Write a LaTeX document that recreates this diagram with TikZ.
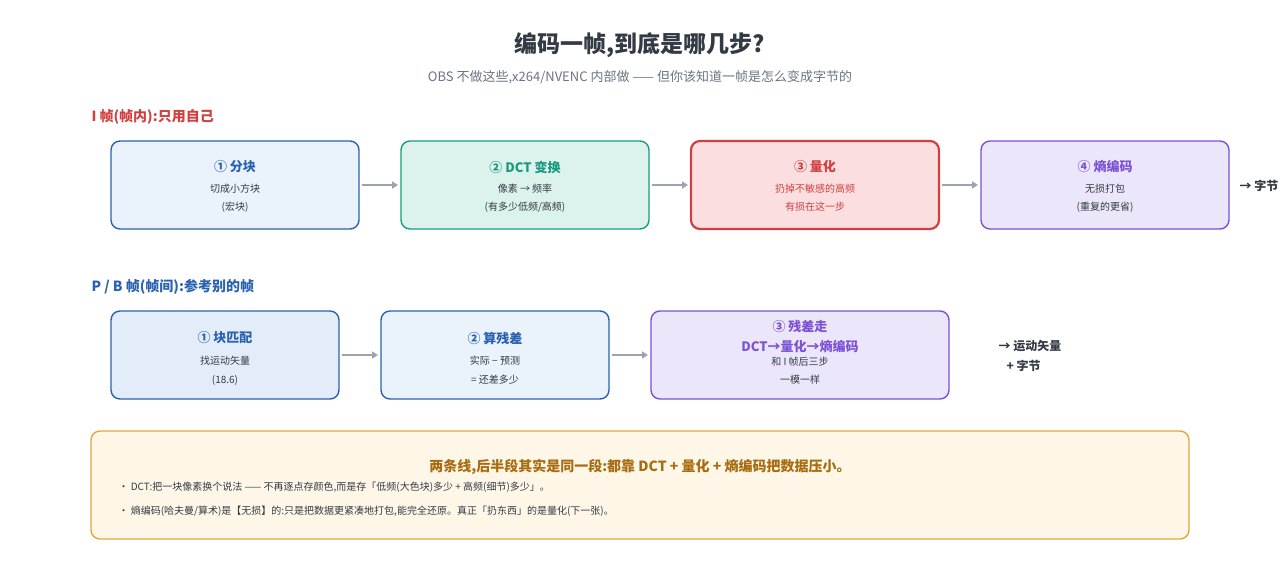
\documentclass[tikz,border=0pt]{standalone}
\usepackage{fontspec}
\setmainfont{Noto Sans CJK SC}
\usetikzlibrary{arrows.meta}
\definecolor{cblue}{HTML}{2A62B0}\definecolor{fblue}{HTML}{EAF2FC}\definecolor{fblue2}{HTML}{E3EDF9}
\definecolor{cgreen}{HTML}{1A9A80}\definecolor{fgreen}{HTML}{DCF2EC}
\definecolor{cred}{HTML}{D04040}\definecolor{fred}{HTML}{FBDFE0}
\definecolor{cpur}{HTML}{7B52D6}\definecolor{fpur}{HTML}{ECE6FA}
\definecolor{corg}{HTML}{E0A640}\definecolor{forg}{HTML}{FEF7E8}\definecolor{torg}{HTML}{A86C10}
\definecolor{cgray}{HTML}{9AA3AE}\definecolor{tdark}{HTML}{333A44}\definecolor{tsub}{HTML}{6B7480}
\begin{document}
\begin{tikzpicture}[x=1pt,y=-1pt,
 box/.style={rounded corners=9pt,line width=1.4pt},
 arr/.style={draw=cgray,line width=2.2pt,-{Triangle[length=6pt,width=7pt]}},
 ttl/.style={font=\fontsize{13}{15}\selectfont\bfseries},
 sm/.style={font=\fontsize{10}{12}\selectfont,text=tdark}]
\useasboundingbox (0,0) rectangle (1280,560);
\node[font=\fontsize{23}{27}\selectfont\bfseries,text=tdark] (t) at (640,45) {编码一帧,到底是哪几步?};
\node[font=\fontsize{13}{15}\selectfont,text=tsub] (st) at (640,77) {OBS 不做这些,x264/NVENC 内部做 —— 但你该知道一帧是怎么变成字节的};
\node[anchor=west,font=\fontsize{14}{16}\selectfont\bfseries,text=cred] (l1) at (88,117) {I 帧(帧内):只用自己};
\node[anchor=west,font=\fontsize{14}{16}\selectfont\bfseries,text=cblue] (l2) at (88,287) {P / B 帧(帧间):参考别的帧};
% I row
\draw[box,draw=cblue,fill=fblue] (111,141) rectangle (359,229);
\draw[box,draw=cgreen,fill=fgreen] (401,141) rectangle (649,229);
\draw[box,draw=cred,fill=fred,line width=2.2pt] (691,141) rectangle (939,229);
\draw[box,draw=cpur,fill=fpur] (981,141) rectangle (1229,229);
\coordinate (a1) at (359,185);\coordinate (b2) at (401,185);
\coordinate (a2) at (649,185);\coordinate (b3) at (691,185);
\coordinate (a3) at (939,185);\coordinate (b4) at (981,185);
\draw[arr] ([xshift=3]a1) -- ([xshift=-3]b2);
\draw[arr] ([xshift=3]a2) -- ([xshift=-3]b3);
\draw[arr] ([xshift=3]a3) -- ([xshift=-3]b4);
\node[ttl,text=cblue] (n1) at (235,167) {① 分块};
\node[sm] (n1a) at (235,189) {切成小方块};
\node[sm] (n1b) at (235,207) {(宏块)};
\node[ttl,text=cgreen] (n2) at (525,167) {② DCT 变换};
\node[sm] (n2a) at (525,189) {像素 → 频率};
\node[sm] (n2b) at (525,207) {(有多少低频/高频)};
\node[ttl,text=cred] (n3) at (815,167) {③ 量化};
\node[sm,text=cred] (n3a) at (815,189) {扔掉不敏感的高频};
\node[sm,text=cred] (n3b) at (815,207) {有损在这一步};
\node[ttl,text=cpur] (n4) at (1105,167) {④ 熵编码};
\node[sm] (n4a) at (1105,189) {无损打包};
\node[sm] (n4b) at (1105,207) {(重复的更省)};
\node[anchor=west,font=\fontsize{12}{14}\selectfont\bfseries,text=tdark] (o1) at (1236,186) {→ 字节};
% P row
\draw[box,draw=cblue,fill=fblue2] (111,311) rectangle (339,399);
\draw[box,draw=cblue,fill=fblue] (381,311) rectangle (609,399);
\draw[box,draw=cpur,fill=fpur] (651,311) rectangle (949,399);
\coordinate (p1) at (339,355);\coordinate (q2) at (381,355);
\coordinate (p2) at (609,355);\coordinate (q3) at (651,355);
\draw[arr] ([xshift=3]p1) -- ([xshift=-3]q2);
\draw[arr] ([xshift=3]p2) -- ([xshift=-3]q3);
\node[ttl,text=cblue] (m1) at (225,338) {① 块匹配};
\node[sm] (m1a) at (225,361) {找运动矢量};
\node[sm] (m1b) at (225,380) {(18.6)};
\node[ttl,text=cblue] (m2) at (495,338) {② 算残差};
\node[sm] (m2a) at (495,361) {实际 − 预测};
\node[sm] (m2b) at (495,380) {= 还差多少};
\node[ttl,text=cpur] (m3) at (800,327) {③ 残差走};
\node[ttl,text=cpur] (m3x) at (800,347) {DCT→量化→熵编码};
\node[sm] (m3a) at (800,362) {和 I 帧后三步};
\node[sm] (m3b) at (800,380) {一模一样};
\node[anchor=west,font=\fontsize{12}{14}\selectfont\bfseries,text=tdark] (o2) at (995,346) {→ 运动矢量};
\node[anchor=west,font=\fontsize{12}{14}\selectfont\bfseries,text=tdark] (o3) at (1003,366) {+ 字节};
% bottom
\draw[box,draw=corg,fill=forg] (91,431) rectangle (1189,539);
\node[font=\fontsize{14}{16}\selectfont\bfseries,text=torg] (bt) at (640,467) {两条线,后半段其实是同一段:都靠 DCT + 量化 + 熵编码把数据压小。};
\node[anchor=west,sm] (b1) at (115,487) {· DCT:把一块像素换个说法 —— 不再逐点存颜色,而是存「低频(大色块)多少 + 高频(细节)多少」。};
\node[anchor=west,sm] (b2) at (115,511) {· 熵编码(哈夫曼/算术)是【无损】的:只是把数据更紧凑地打包,能完全还原。真正「扔东西」的是量化(下一张)。};
\end{tikzpicture}
\end{document}
